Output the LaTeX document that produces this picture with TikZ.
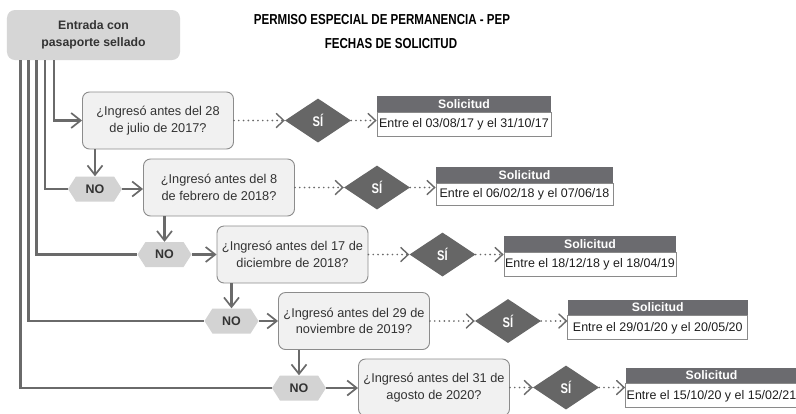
\documentclass[tikz,border=0pt]{standalone}
\usepackage{fontspec}
\setmainfont{Liberation Sans}
\newfontfamily\condfont[FakeStretch=0.8]{Liberation Sans}
\usetikzlibrary{arrows.meta,shapes.geometric,shapes.symbols}
\definecolor{linegray}{HTML}{6A6A6A}
\definecolor{startfill}{HTML}{D6D6D6}
\definecolor{qfill}{HTML}{F1F1F1}
\definecolor{qborder}{HTML}{8C8C8C}
\definecolor{hexfill}{HTML}{D3D3D3}
\definecolor{diamfill}{HTML}{666666}
\definecolor{headfill}{HTML}{6B6B6F}
\definecolor{boxborder}{HTML}{8A8A8A}
\definecolor{darktext}{HTML}{333333}
\definecolor{bodytext}{HTML}{1E1E1E}
\tikzset{
  startbox/.style={rounded corners=8bp, fill=startfill, minimum width=173bp, minimum height=50bp,
    align=center, inner sep=0pt, text=darktext, font=\bfseries\fontsize{12.3}{17}\selectfont},
  titletext/.style={inner sep=0pt, text=black, font=\condfont\bfseries\fontsize{14.5}{16}\selectfont},
  qbox/.style={rounded corners=7bp, draw=qborder, line width=0.9bp, fill=qfill, minimum width=151bp,
    minimum height=57bp, align=center, inner sep=0pt, text=darktext, font=\fontsize{12.8}{16.5}\selectfont},
  nohex/.style={signal, signal to=east and west, signal pointer angle=115, fill=hexfill,
    minimum width=54bp, minimum height=25bp, inner sep=0pt, text=darktext, font=\bfseries\fontsize{12.5}{14}\selectfont},
  sidiam/.style={diamond, fill=diamfill, minimum width=66bp, minimum height=44bp, inner sep=0pt,
    text=white, font=\condfont\bfseries\fontsize{14}{14}\selectfont},
  shead/.style={fill=headfill, minimum width=#1, minimum height=15.5bp, inner sep=0pt, text=white,
    font=\bfseries\fontsize{12.3}{14}\selectfont},
  sbody/.style={draw=boxborder, line width=0.8bp, fill=white, minimum width=#1, minimum height=24bp,
    inner sep=0pt, text=bodytext, font=\fontsize{12.5}{14}\selectfont},
  conn/.style={draw=linegray, line width=2.1bp},
  arr/.style={-{Straight Barb[length=9.5bp,width=15bp,line width=1.7bp]}},
  dotconn/.style={draw=linegray, line width=1.9bp, line cap=round, dash pattern=on 0bp off 4.8bp,
    -{Straight Barb[length=7.5bp,width=14bp,line width=1.4bp,line cap=round]}}
}
\begin{document}
\begin{tikzpicture}[x=1bp,y=-1bp]
\useasboundingbox (0,0) rectangle (796,413);
\fill[white] (0,0) rectangle (796,413);

% start and title
\node[startbox] (start) at (93.5,35) {Entrada con\\pasaporte sellado};
\node[titletext] (t1) at (382,20) {PERMISO ESPECIAL DE PERMANENCIA - PEP};
\node[titletext] (t2) at (391,44) {FECHAS DE SOLICITUD};

% questions
\node[qbox] (q1) at (158,120.5) {¿Ingresó antes del 28\\de julio de 2017?};
\node[qbox] (q2) at (219,187.5) {¿Ingresó antes del 8\\de febrero de 2018?};
\node[qbox] (q3) at (292.5,254.5) {¿Ingresó antes del 17 de\\diciembre de 2018?};
\node[qbox] (q4) at (354,321) {¿Ingresó antes del 29 de\\noviembre de 2019?};
\node[qbox] (q5) at (434,387.5) {¿Ingresó antes del 31 de\\agosto de 2020?};

% NO hexagons
\node[nohex] (n2) at (95,189) {NO};
\node[nohex] (n3) at (164.5,254.5) {NO};
\node[nohex] (n4) at (231.5,321) {NO};
\node[nohex] (n5) at (299,388) {NO};

% SI diamonds
\node[sidiam] (d1) at (318,120.5) {SÍ};
\node[sidiam] (d2) at (377,187.5) {SÍ};
\node[sidiam] (d3) at (442.5,254.5) {SÍ};
\node[sidiam] (d4) at (508,321) {SÍ};
\node[sidiam] (d5) at (566,387.5) {SÍ};

% Solicitud boxes
\node[shead=174bp] (h1) at (464,103.8) {Solicitud};
\node[sbody=174bp, anchor=north] (b1) at (h1.south) {Entre el 03/08/17 y el 31/10/17};
\node[shead=177bp] (h2) at (524.5,175) {Solicitud};
\node[sbody=177bp, minimum height=22.5bp, anchor=north] (b2) at (h2.south) {Entre el 06/02/18 y el 07/06/18};
\node[shead=172bp] (h3) at (590,243.8) {Solicitud};
\node[sbody=172bp, anchor=north] (b3) at (h3.south) {Entre el 18/12/18 y el 18/04/19};
\node[shead=180bp] (h4) at (657.8,307.5) {Solicitud};
\node[sbody=180bp, anchor=north] (b4) at (h4.south) {Entre el 29/01/20 y el 20/05/20};
\node[shead=172bp] (h5) at (711.5,375.5) {Solicitud};
\node[sbody=172bp, anchor=north] (b5) at (h5.south) {Entre el 15/10/20 y el 15/02/21};

% branch coordinates under the start box
\coordinate (c1) at (54,60);
\coordinate (c2) at (45,60);
\coordinate (c3) at (36.5,60);
\coordinate (c4) at (28.5,60);
\coordinate (c5) at (20.5,60);

% connectors from start
\draw[conn,arr] (c1) |- (q1.west);
\draw[conn] (c2) |- (n2.west);
\draw[conn] (c3) |- (n3.west);
\draw[conn] (c4) |- (n4.west);
\draw[conn] (c5) |- (n5.west);

% question -> NO
\draw[conn,arr] (n2.north |- q1.south) -- (n2.north);
\draw[conn,arr] (n3.north |- q2.south) -- (n3.north);
\draw[conn,arr] (n4.north |- q3.south) -- (n4.north);
\draw[conn,arr] (n5.north |- q4.south) -- (n5.north);

% NO -> question
\draw[conn,arr] (n2.east) -- (n2.east -| q2.west);
\draw[conn,arr] (n3.east) -- (n3.east -| q3.west);
\draw[conn,arr] (n4.east) -- (n4.east -| q4.west);
\draw[conn,arr] (n5.east) -- (n5.east -| q5.west);

% question -> SI
\draw[dotconn] (q1.east) -- (d1.west);
\draw[dotconn] (q2.east) -- (d2.west);
\draw[dotconn] (q3.east) -- (d3.west);
\draw[dotconn] (q4.east) -- (d4.west);
\draw[dotconn] (q5.east) -- (d5.west);

% SI -> Solicitud
\draw[dotconn] (d1.east) -- (d1.east -| b1.west);
\draw[dotconn] (d2.east) -- (d2.east -| b2.west);
\draw[dotconn] (d3.east) -- (d3.east -| b3.west);
\draw[dotconn] (d4.east) -- (d4.east -| b4.west);
\draw[dotconn] (d5.east) -- (d5.east -| b5.west);
\end{tikzpicture}
\end{document}
